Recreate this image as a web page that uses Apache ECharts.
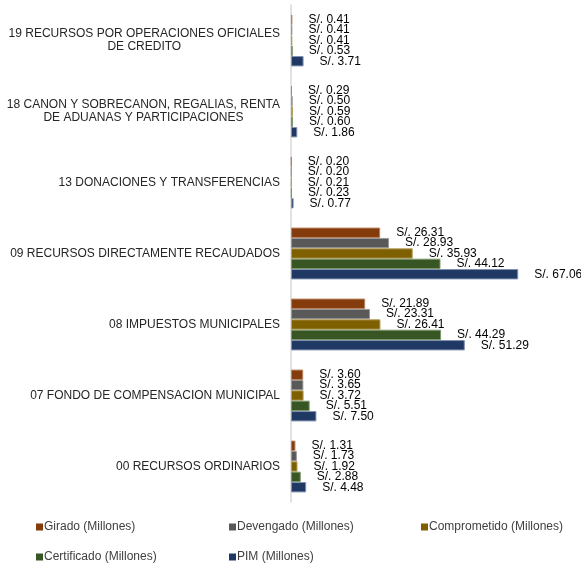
<!DOCTYPE html>
<html>
<head>
<meta charset="utf-8">
<script src="https://cdn.jsdelivr.net/npm/echarts@6/dist/echarts.min.js"></script>
<style>
  html, body { margin: 0; padding: 0; background: #fff; }
  #chart { width: 581px; height: 567px; }
</style>
</head>
<body>
<div id="chart"></div>
<script>
// categorias (de abajo hacia arriba)
const categories = [
  '00 RECURSOS ORDINARIOS',
  '07 FONDO DE COMPENSACION MUNICIPAL',
  '08 IMPUESTOS MUNICIPALES',
  '09 RECURSOS DIRECTAMENTE RECAUDADOS',
  '13 DONACIONES Y TRANSFERENCIAS',
  '18 CANON Y SOBRECANON, REGALIAS, RENTA\nDE ADUANAS Y PARTICIPACIONES',
  '19 RECURSOS POR OPERACIONES OFICIALES\nDE CREDITO'
];

const girado = [1.31, 3.60, 21.89, 26.31, 0.20, 0.29, 0.41];
const devengado = [1.73, 3.65, 23.31, 28.93, 0.20, 0.50, 0.41];
const comprometido = [1.92, 3.72, 26.41, 35.93, 0.21, 0.59, 0.41];
const certificado = [2.88, 5.51, 44.29, 44.12, 0.23, 0.60, 0.53];
const pim = [4.48, 7.50, 51.29, 67.06, 0.77, 1.86, 3.71];

const FONT = 'Liberation Sans, Arial, sans-serif';

const seriesDefs = [
  { name: 'Girado (Millones)', data: girado, color: '#843C0C', border: '#b9805e' },
  { name: 'Devengado (Millones)', data: devengado, color: '#595959', border: '#999999' },
  { name: 'Comprometido (Millones)', data: comprometido, color: '#7F6000', border: '#b5a05e' },
  { name: 'Certificado (Millones)', data: certificado, color: '#375623', border: '#7d966c' },
  { name: 'PIM (Millones)', data: pim, color: '#1F3864', border: '#8090b0' }
];

// posiciones de la leyenda (dos filas)
const legendPos = [
  { left: 36, top: 521 },
  { left: 229, top: 521 },
  { left: 421, top: 521 },
  { left: 36, top: 551 },
  { left: 229, top: 551 }
];

const chart = echarts.init(document.getElementById('chart'));

const option = {
  animation: false,
  textStyle: { fontFamily: FONT },
  grid: { left: 291, right: 2, top: 5, bottom: 65, containLabel: false },
  xAxis: {
    type: 'value',
    min: 0,
    max: 85,
    show: false
  },
  yAxis: {
    type: 'category',
    data: categories,
    axisLine: { show: true, lineStyle: { color: '#d9d9d9', width: 1.5 } },
    axisTick: { show: false },
    axisLabel: {
      margin: 11,
      color: '#262626',
      fontSize: 12,
      fontFamily: FONT,
      lineHeight: 13,
      formatter: v => v.split('\n').map(s => '{m|' + s + '}').join('\n'),
      rich: { m: { align: 'center', fontSize: 12, lineHeight: 13, color: '#262626', fontFamily: FONT } }
    }
  },
  legend: seriesDefs.map((s, i) => ({
    data: [s.name],
    left: legendPos[i].left,
    top: legendPos[i].top,
    padding: 0,
    icon: 'rect',
    itemWidth: 7,
    itemHeight: 7,
    selectedMode: false,
    itemStyle: { borderWidth: 0 },
    textStyle: { fontSize: 12, color: '#404040', fontFamily: FONT, padding: [0, 0, 0, -4] }
  })),
  series: seriesDefs.map(s => ({
    name: s.name,
    type: 'bar',
    data: s.data,
    barGap: '0%',
    barCategoryGap: '27%',
    itemStyle: { color: s.color, borderColor: s.border, borderWidth: 1 },
    label: {
      show: true,
      position: 'right',
      distance: 16,
      fontSize: 12,
      color: '#000',
      fontFamily: FONT,
      formatter: p => 'S/. ' + p.value.toFixed(2)
    }
  }))
};

chart.setOption(option);
</script>
</body>
</html>
